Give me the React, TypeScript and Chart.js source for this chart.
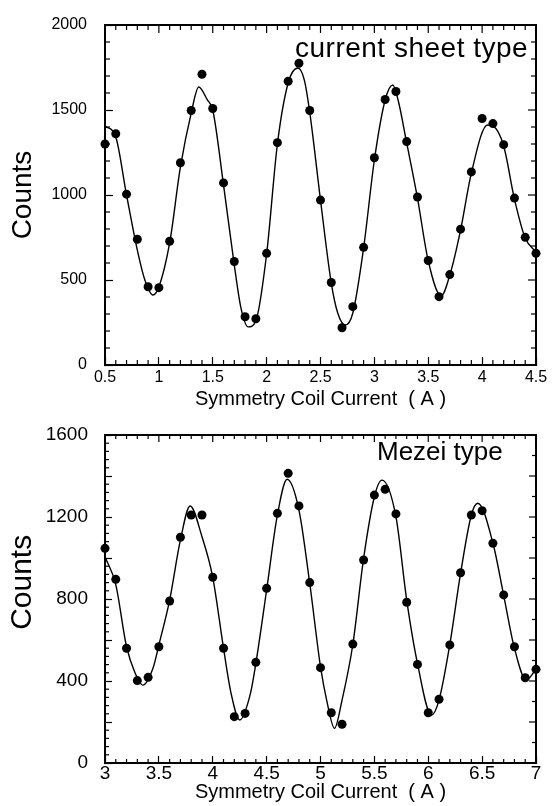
import React, { useEffect, useRef } from 'react';
import { Chart, registerables } from 'chart.js';

Chart.register(...registerables);

const FONT = "'Liberation Sans', Arial, Helvetica, sans-serif";
Chart.defaults.font.family = FONT;
Chart.defaults.color = '#000';

// ---------- Top panel: current sheet type ----------
const topCurrent = [
  0.5, 0.6, 0.7, 0.8, 0.9, 1.0, 1.1, 1.2, 1.3, 1.4, 1.5, 1.6, 1.7, 1.8, 1.9, 2.0, 2.1,
  2.2, 2.3, 2.4, 2.5, 2.6, 2.7, 2.8, 2.9, 3.0, 3.1, 3.2, 3.3, 3.4, 3.5, 3.6, 3.7, 3.8,
  3.9, 4.0, 4.1, 4.2, 4.3, 4.4, 4.5,
];
const topCounts = [
  1300, 1360, 1005, 740, 460, 455, 728, 1190, 1497, 1710, 1509, 1071, 609, 284, 272, 657, 1308,
  1669, 1775, 1497, 970, 485, 219, 343, 692, 1219, 1562, 1609, 1314, 988, 615, 402, 532, 799,
  1136, 1450, 1420, 1296, 982, 751, 657,
];
const topFitCurrent = [
  0.5, 0.6, 0.7, 0.8, 0.87, 0.945, 1.0, 1.1, 1.2, 1.3, 1.37, 1.45, 1.5, 1.6, 1.7, 1.76, 1.83,
  1.9, 2.0, 2.1, 2.2, 2.29, 2.35, 2.4, 2.5, 2.6, 2.66, 2.73, 2.8, 2.9, 3.0, 3.1, 3.17, 3.22,
  3.3, 3.4, 3.5, 3.62, 3.7, 3.8, 3.9, 4.05, 4.1, 4.2, 4.3, 4.4, 4.5,
];
const topFitCounts = [
  1406, 1341, 1000, 676, 500, 412, 459, 718, 1165, 1482, 1635, 1559, 1500, 1059, 588, 341, 224,
  260, 653, 1300, 1659, 1747, 1676, 1488, 970, 482, 306, 235, 306, 688, 1206, 1559, 1647, 1559,
  1306, 982, 612, 406, 529, 794, 1129, 1412, 1406, 1288, 976, 747, 665,
];
const topXTicks = [0.5, 1, 1.5, 2, 2.5, 3, 3.5, 4, 4.5];
const topYTicks = [0, 500, 1000, 1500, 2000];
const topYLabels = [0, 500, 1000, 1500, 2000];

// ---------- Bottom panel: Mezei type ----------
const botCurrent = [
  3.0, 3.1, 3.2, 3.3, 3.4, 3.5, 3.6, 3.7, 3.8, 3.9, 4.0, 4.1, 4.2, 4.3, 4.4, 4.5, 4.6,
  4.7, 4.8, 4.9, 5.0, 5.1, 5.2, 5.3, 5.4, 5.5, 5.6, 5.7, 5.8, 5.9, 6.0, 6.1, 6.2, 6.3,
  6.4, 6.5, 6.6, 6.7, 6.8, 6.9, 7.0,
];
const botCounts = [
  1047, 896, 560, 402, 418, 567, 790, 1101, 1210, 1210, 906, 560, 226, 242, 491, 852, 1218,
  1413, 1254, 880, 465, 245, 189, 580, 990, 1307, 1335, 1215, 784, 481, 245, 311, 576, 928,
  1210, 1231, 1072, 820, 567, 416, 457,
];
const botFitCurrent = [
  3.0, 3.1, 3.2, 3.28, 3.35, 3.45, 3.5, 3.6, 3.7, 3.79, 3.9, 4.0, 4.1, 4.17, 4.25, 4.35, 4.4,
  4.5, 4.6, 4.69, 4.8, 4.9, 5.0, 5.06, 5.13, 5.2, 5.3, 5.4, 5.5, 5.57, 5.7, 5.8, 5.9, 6.03,
  6.1, 6.2, 6.3, 6.4, 6.46, 6.6, 6.7, 6.8, 6.91, 7.0,
];
const botFitCounts = [
  1006, 870, 567, 438, 380, 470, 576, 795, 1088, 1254, 1104, 906, 560, 340, 210, 340, 486,
  844, 1210, 1384, 1234, 877, 470, 299, 169, 307, 578, 998, 1299, 1380, 1202, 795, 486, 234,
  307, 578, 925, 1210, 1267, 1073, 818, 560, 405, 457,
];
const botXTicks = [3, 3.5, 4, 4.5, 5, 5.5, 6, 6.5, 7];
const botYTicks = [0, 200, 400, 600, 800, 1000, 1200, 1400, 1600];
const botYLabels = [0, 400, 800, 1200, 1600];

const near = (v: number, step: number) => Math.abs(v / step - Math.round(v / step)) < 1e-6;

const frameTicks = {
  id: 'frameTicks',
  afterDraw(chart: any, _args: any, o: any) {
    const { ctx, chartArea } = chart;
    const { left, right, top, bottom } = chartArea;
    const xs = chart.scales.x;
    const ys = chart.scales.y;
    ctx.save();
    ctx.strokeStyle = '#000';
    ctx.lineWidth = 2;
    ctx.beginPath();
    ctx.moveTo(left - 1, top);
    ctx.lineTo(right, top);
    ctx.lineTo(right, bottom + 1);
    ctx.stroke();
    ctx.lineWidth = 1.2;
    const seg = (x1: number, y1: number, x2: number, y2: number) => {
      ctx.beginPath();
      ctx.moveTo(x1, y1);
      ctx.lineTo(x2, y2);
      ctx.stroke();
    };
    const nx = Math.round((xs.max - xs.min) / o.xMinor);
    for (let i = 0; i <= nx; i++) {
      const v = xs.min + i * o.xMinor;
      const px = xs.getPixelForValue(v);
      const maj = near(v, o.xMajor);
      const len = maj ? o.majorLen : o.minorLen;
      if (!maj) seg(px, bottom, px, bottom - len);
      seg(px, top, px, top + len);
    }
    const nl = Math.round((ys.max - ys.min) / o.yMinorLeft);
    for (let i = 0; i <= nl; i++) {
      const v = ys.min + i * o.yMinorLeft;
      if (near(v, o.yMajor)) continue;
      const py = ys.getPixelForValue(v);
      seg(left, py, left + o.minorLen, py);
    }
    const nr = Math.round((ys.max - ys.min) / o.yMinorRight);
    for (let i = 0; i <= nr; i++) {
      const v = ys.min + i * o.yMinorRight;
      const py = ys.getPixelForValue(v);
      const len = near(v, o.yMajor) ? o.majorLen : o.minorLen;
      seg(right, py, right - len, py);
    }
    if (o.label) {
      ctx.fillStyle = '#000';
      ctx.font = `${o.label.size}px ${FONT}`;
      ctx.textAlign = 'left';
      ctx.textBaseline = 'alphabetic';
      (ctx as any).letterSpacing = `${o.label.spacing}px`;
      ctx.fillText(o.label.text, o.label.x, o.label.y);
      (ctx as any).letterSpacing = '0px';
    }
    ctx.restore();
  },
};

const zeroPadding = (axis: any) => {
  axis.paddingTop = 0;
  axis.paddingBottom = 0;
  axis.paddingLeft = 0;
  axis.paddingRight = 0;
};

function makeChart(canvas: HTMLCanvasElement, p: any) {
  const points = p.xs.map((x: number, i: number) => ({ x, y: p.ys[i] }));
  const fit = p.fx.map((x: number, i: number) => ({ x, y: p.fy[i] }));
  return new Chart(canvas, {
    type: 'scatter',
    data: {
      datasets: [
        {
          data: points,
          showLine: false,
          pointRadius: 4.5,
          pointHoverRadius: 4.5,
          pointBackgroundColor: '#000',
          pointBorderWidth: 0,
          clip: false,
        } as any,
        {
          data: fit,
          showLine: true,
          pointRadius: 0,
          borderColor: '#000',
          borderWidth: 1.4,
          cubicInterpolationMode: 'monotone',
          fill: false,
        } as any,
      ],
    },
    plugins: [frameTicks],
    options: {
      responsive: false,
      animation: false,
      devicePixelRatio: 1,
      events: [],
      layout: { padding: { left: 0, right: 17, top: p.padTop, bottom: 0 } },
      plugins: {
        legend: { display: false },
        tooltip: { enabled: false },
        frameTicks: {
          xMinor: 0.1,
          xMajor: 0.5,
          yMinorLeft: p.yMinorLeft,
          yMinorRight: p.yMinorRight,
          yMajor: p.yMajor,
          majorLen: p.majorLen,
          minorLen: p.minorLen,
          label: p.label,
        },
      } as any,
      scales: {
        x: {
          type: 'linear',
          position: 'bottom',
          min: p.xMin,
          max: p.xMax,
          afterBuildTicks: (axis: any) => {
            axis.ticks = p.xTicks.map((v: number) => ({ value: v }));
          },
          afterFit: (axis: any) => {
            axis.height = p.xHeight;
            zeroPadding(axis);
          },
          ticks: {
            autoSkip: false,
            maxRotation: 0,
            color: '#000',
            padding: p.xTickPad,
            font: { size: p.tickFont },
            callback: (v: any) => String(v),
          },
          grid: {
            drawOnChartArea: false,
            drawTicks: true,
            tickLength: -p.majorLen,
            tickColor: '#000',
            tickWidth: 1.2,
          },
          border: { display: true, color: '#000', width: 2 },
          title: {
            display: true,
            text: 'Symmetry Coil Current  ( A )',
            color: '#000',
            font: { size: 20 },
            padding: { top: 0, bottom: p.titlePadBottom },
          },
        },
        y: {
          type: 'linear',
          position: 'left',
          min: p.yMin,
          max: p.yMax,
          afterBuildTicks: (axis: any) => {
            axis.ticks = p.yTicks.map((v: number) => ({ value: v }));
          },
          afterFit: (axis: any) => {
            axis.width = 105;
            zeroPadding(axis);
          },
          ticks: {
            autoSkip: false,
            color: '#000',
            padding: p.yTickPad,
            font: { size: p.tickFont },
            callback: (v: any) => (p.yLabels.includes(v) ? String(v) : ''),
          },
          grid: {
            drawOnChartArea: false,
            drawTicks: true,
            tickLength: -p.majorLen,
            tickColor: '#000',
            tickWidth: 1.2,
          },
          border: { display: true, color: '#000', width: 2 },
          title: {
            display: true,
            text: p.countsText,
            color: '#000',
            font: { size: p.countsSize },
            padding: { top: p.countsPad, bottom: 0 },
          },
        },
      },
    } as any,
  });
}

export default function App() {
  const topRef = useRef<HTMLCanvasElement>(null);
  const botRef = useRef<HTMLCanvasElement>(null);

  useEffect(() => {
    const top = makeChart(topRef.current!, {
      xs: topCurrent, ys: topCounts, fx: topFitCurrent, fy: topFitCounts,
      xMin: 0.5, xMax: 4.5, yMin: 0, yMax: 2000,
      xTicks: topXTicks, yTicks: topYTicks, yLabels: topYLabels,
      padTop: 25, xHeight: 50, tickFont: 16, xTickPad: 11, yTickPad: 26,
      majorLen: 8, minorLen: 5, yMinorLeft: 100, yMinorRight: 100, yMajor: 500,
      countsText: 'Counts', countsSize: 28, countsPad: 6, titlePadBottom: 4,
      label: { text: 'current sheet type', x: 295, y: 57, size: 28, spacing: 0.5 },
    });
    const bot = makeChart(botRef.current!, {
      xs: botCurrent, ys: botCounts, fx: botFitCurrent, fy: botFitCounts,
      xMin: 3, xMax: 7, yMin: 0, yMax: 1600,
      xTicks: botXTicks, yTicks: botYTicks, yLabels: botYLabels,
      padTop: 20, xHeight: 43, tickFont: 19, xTickPad: 6, yTickPad: 24,
      majorLen: 7, minorLen: 4, yMinorLeft: 40, yMinorRight: 100, yMajor: 200,
      countsText: '    Counts', countsSize: 30, countsPad: 5, titlePadBottom: 2,
      label: { text: 'Mezei type', x: 377, y: 45, size: 26, spacing: 0 },
    });
    return () => {
      top.destroy();
      bot.destroy();
    };
  }, []);

  return (
    <div style={{ position: 'absolute', left: 0, top: 0, width: 553, height: 806, background: '#fff' }}>
      <canvas ref={topRef} width={553} height={415} style={{ position: 'absolute', left: 0, top: 0 }} />
      <canvas ref={botRef} width={553} height={391} style={{ position: 'absolute', left: 0, top: 415 }} />
    </div>
  );
}
